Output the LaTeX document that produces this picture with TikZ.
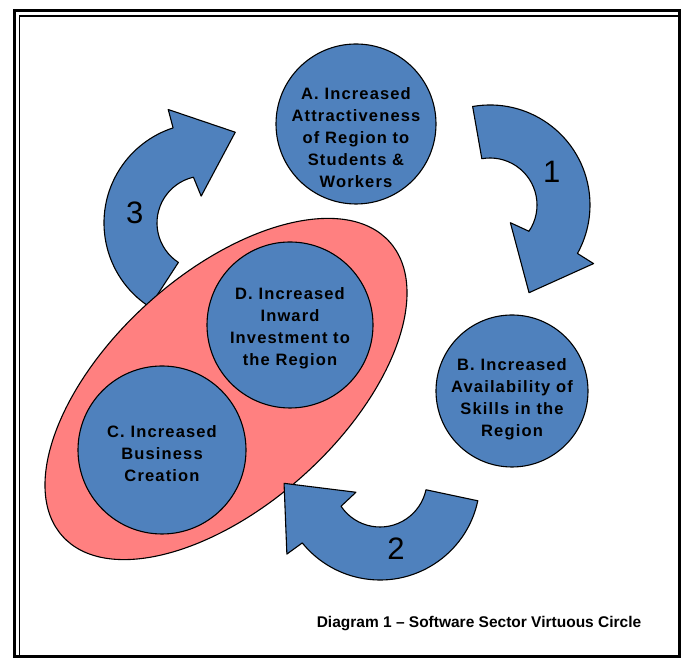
\documentclass[tikz,border=0pt]{standalone}
\usepackage{fontspec}
\setmainfont{Liberation Sans}
\usepackage{tikz}
\usetikzlibrary{shapes.geometric, calc}
\definecolor{cycleblue}{HTML}{4F81BD}
\definecolor{blobred}{HTML}{FF8080}
\tikzset{
  bubble/.style={circle, draw=black, line width=1.1pt, fill=cycleblue, inner sep=0pt},
  bubtext/.style={align=center, inner sep=0pt,
    font=\fontsize{16.5}{22}\selectfont\bfseries\addfontfeatures{LetterSpace=7}},
  blob/.style={ellipse, draw=black, line width=1.1pt, fill=blobred, rotate=42,
    minimum width=440pt, minimum height=232pt, inner sep=0pt},
  cyclearrow/.style={draw=black, line width=1.1pt, fill=cycleblue, line join=round},
  numlbl/.style={font=\fontsize{31}{31}\selectfont, inner sep=0pt},
  caplbl/.style={font=\fontsize{15.5}{18}\selectfont\bfseries, inner sep=0pt},
}
% #1 centre of the arrow, #2 angle of its tail
\newcommand{\CycArrow}[2]{%
  \draw[cyclearrow] ($(#1)+(#2:100)$) arc[start angle=#2, end angle=#2-129, radius=100]
    -- ($(#1)+(#2-129.5:119)$) -- ($(#1)+(#2-166:96)$) -- ($(#1)+(#2-141:27)$)
    -- ($(#1)+(#2-134:47)$) arc[start angle=#2-134, end angle=#2, radius=47] -- cycle;%
}

\begin{document}
\begin{tikzpicture}[x=1pt, y=1pt]
\useasboundingbox (0,0) rectangle (681,658);

%% ===== ARROW CENTRES =====
\coordinate (c1) at (490,453);
\coordinate (c2) at (380,178);
\coordinate (c3) at (204,435);

%% ===== SHAPES =====
% -- arrow 3 lies under the red cluster --
\CycArrow{c3}{237}
\node[blob] (cluster) at (226,269) {};

\node[bubble, minimum size=168pt] (C) at (162,208) {};
\node[bubble, minimum size=166pt] (D) at (290,333) {};
\node[bubtext] (Ctxt) at ([yshift=-4]C.center) {C. Increased\\Business\\Creation};
\node[bubtext] (Dtxt) at ([yshift=-3]D.center) {D. Increased\\Inward\\Investment to\\the Region};

\CycArrow{c2}{-12}
\CycArrow{c1}{100}

\node[bubble, minimum size=160pt] (A) at (356,534) {};
\node[bubble, minimum size=152pt] (B) at (512,267) {};
\node[bubtext] (Atxt) at ([yshift=-14]A.center) {A. Increased\\Attractiveness\\of Region to\\Students \&\\Workers};
\node[bubtext] (Btxt) at ([yshift=-8]B.center) {B. Increased\\Availability of\\Skills in the\\Region};

% -- arrow numbers --
\node[numlbl] (n1) at ($(c1)+(28:70)$) {1};
\node[numlbl] (n2) at ($(c2)+(-77:71)$) {2};
\node[numlbl] (n3) at ($(c3)+(172:70)$) {3};

\node[caplbl] (cap) at (479,34) {Diagram 1 -- Software Sector Virtuous Circle};

%% ===== FRAME =====
\draw[line width=3pt] (14.5,1.5) rectangle (679,647.5);
\draw[line width=1.4pt] (19.5,1.5) -- (19.5,642) -- (679,642);
\end{tikzpicture}
\end{document}
